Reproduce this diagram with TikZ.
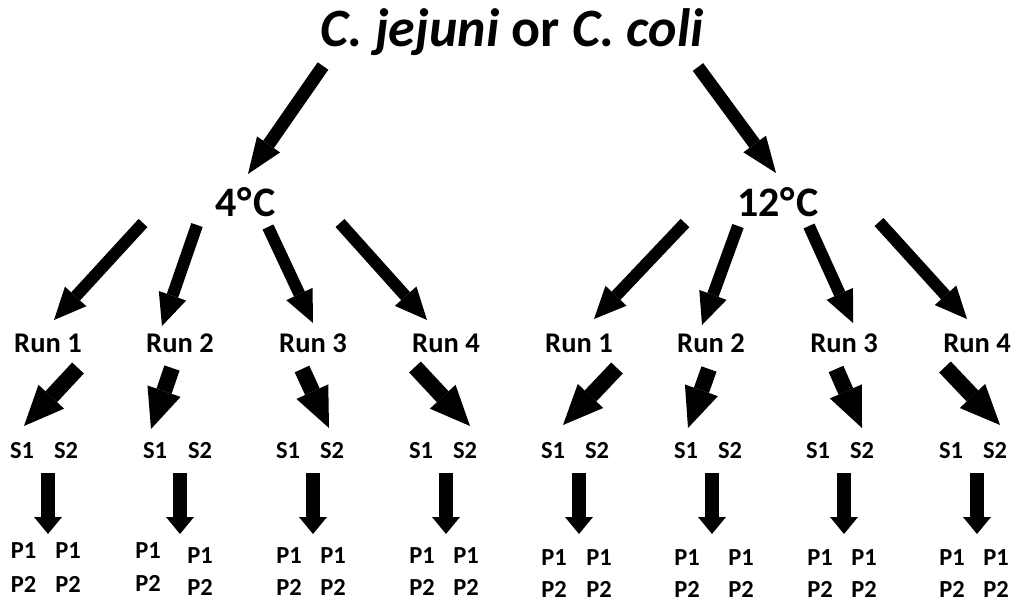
\documentclass[tikz,border=0pt]{standalone}
\usepackage{fontspec}
\setmainfont{Carlito}
\usetikzlibrary{arrows.meta}

\tikzset{
  txt/.style={inner sep=0pt, anchor=base},
  titletxt/.style={txt, font=\bfseries\fontsize{54}{54}\selectfont},
  temptxt/.style={txt, font=\bfseries\fontsize{42}{42}\selectfont},
  runtxt/.style={txt, font=\bfseries\fontsize{28.5}{28.5}\selectfont},
  smalltxt/.style={txt, font=\bfseries\fontsize{24.5}{24.5}\selectfont},
  toparrow/.style={line width=13pt, -{Triangle[width=28pt,length=36pt,line width=0pt]}},
  runarrow/.style={line width=12pt, -{Triangle[width=29pt,length=32pt,line width=0pt]}},
  samparrow/.style={line width=16pt, -{Triangle[width=35pt,length=40pt,line width=0pt]}},
  platearrow/.style={line width=14pt, -{Triangle[width=28pt,length=17pt,line width=0pt]}},
}
\newcommand\degC{\kern0.5pt°\kern2pt C}

\begin{document}
\begin{tikzpicture}[x=1pt,y=-1pt]
  \useasboundingbox (0,0) rectangle (1017,602);

  % species and temperatures
  \node[titletxt] (species) at (512,47) {\textit{C. jejuni} or \textit{C. coli}};
  \node[temptxt] (cold) at (246,216) {4\degC};
  \node[temptxt] (warm) at (778,216) {12\degC};

  \coordinate (sp-l) at (323,66);  \coordinate (cold-in) at (248,174);
  \coordinate (sp-r) at (698,67);  \coordinate (warm-in) at (776,173);
  \draw[toparrow] (sp-l) -- (cold-in);
  \draw[toparrow] (sp-r) -- (warm-in);

  % run labels
  \foreach \r/\rx in {1/48, 2/180, 3/313, 4/446}
    \node[runtxt] (cold-run\r) at (\rx,352) {Run \r};
  \foreach \r/\rx in {1/579, 2/711, 3/844, 4/977}
    \node[runtxt] (warm-run\r) at (\rx,352) {Run \r};

  % arrows from the temperatures to the runs
  \foreach \r/\ax/\ay/\bx/\by in {1/143/223/54/320, 2/197/225/162/326,
                                  3/268/227/313/323, 4/340/223/427/320} {
    \coordinate (cold-o\r) at (\ax,\ay);
    \coordinate (cold-i\r) at (\bx,\by);
    \draw[runarrow] (cold-o\r) -- (cold-i\r);
  }
  \foreach \r/\ax/\ay/\bx/\by in {1/685/223/594/319, 2/738/226/702/325,
                                  3/809/226/853/323, 4/879/222/967/319} {
    \coordinate (warm-o\r) at (\ax,\ay);
    \coordinate (warm-i\r) at (\bx,\by);
    \draw[runarrow] (warm-o\r) -- (warm-i\r);
  }

  % samples S1/S2
  \foreach \g/\sa/\sb in {1/22/66, 2/155/200, 3/288/332, 4/421/465,
                          5/553/597, 6/686/730, 7/818/862, 8/951/995} {
    \node[smalltxt] (s1-\g) at (\sa,458) {S1};
    \node[smalltxt] (s2-\g) at (\sb,458) {S2};
  }

  % arrows from runs to samples
  \foreach \g/\ax/\ay/\bx/\by in {1/78/368/24/426, 2/172/368/151/429,
                                  3/302/369/329/428, 4/415/367/470/426,
                                  5/617/368/563/425, 6/709/369/688/428,
                                  7/836/369/862/428, 8/945/367/1000/425} {
    \coordinate (r-o\g) at (\ax,\ay);
    \coordinate (r-i\g) at (\bx,\by);
    \draw[samparrow] (r-o\g) -- (r-i\g);
  }

  % arrows from samples to plates
  \foreach \g/\x in {1/48, 2/180, 3/313, 4/446, 5/579, 6/712, 7/844, 8/977} {
    \coordinate (p-o\g) at (\x,473);
    \coordinate (p-i\g) at (\x,534);
    \draw[platearrow] (p-o\g) -- (p-i\g);
  }

  % plates P1/P2 under each sample
  \foreach \g/\xa/\ya/\yb/\xb/\yc/\yd in {
      1/23.5/558/592/68/558/592,
      2/148/558/591/200/563/595,
      3/289/563/595/333/563/595,
      4/422/563/595/466/563/595,
      5/554/565/597/599/565/597,
      6/687/565/597/741/565/597,
      7/820/565/597/864/565/597,
      8/952/565/597/996/565/597} {
    \node[smalltxt] (pa1-\g) at (\xa,\ya) {P1};
    \node[smalltxt] (pa2-\g) at (\xa,\yb) {P2};
    \node[smalltxt] (pb1-\g) at (\xb,\yc) {P1};
    \node[smalltxt] (pb2-\g) at (\xb,\yd) {P2};
  }
\end{tikzpicture}
\end{document}
